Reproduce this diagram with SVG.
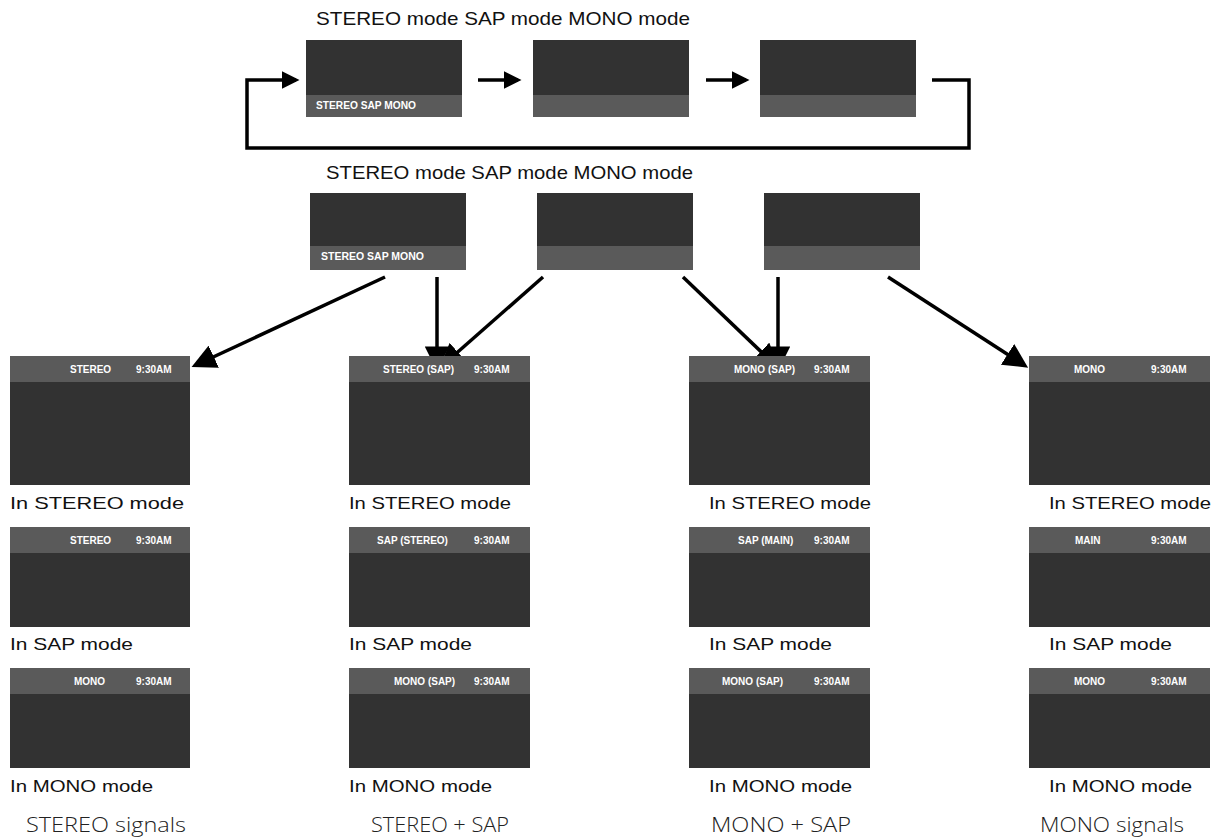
<svg xmlns="http://www.w3.org/2000/svg" width="1215" height="837" viewBox="0 0 1215 837">
<style>
.scr{fill:#323232}.bar{fill:#5a5a5a}
.t{font-family:"Liberation Sans",Arial,sans-serif;fill:#111}
.big{font-size:19px}.lab{font-size:17px}
.ft{font-family:"Open Sans","Liberation Sans",sans-serif;font-weight:300;font-size:21px;fill:#222}
.st{font-family:"Liberation Sans",Arial,sans-serif;font-weight:bold;font-size:10px;fill:#fff}
.ln{stroke:#000;stroke-width:3.5;fill:none}
</style>
<defs>
<marker id="ah" viewBox="0 0 10 10" refX="8" refY="5" markerWidth="5" markerHeight="5" orient="auto" markerUnits="strokeWidth"><path d="M0,0L10,5L0,10z" fill="#000"/></marker>
<marker id="ahb" viewBox="0 0 10 10" refX="8" refY="5" markerWidth="7" markerHeight="7" orient="auto" markerUnits="strokeWidth"><path d="M0,0L10,5L0,10z" fill="#000"/></marker>
</defs>
<rect width="1215" height="837" fill="#fff"/>
<text class="t big" x="316" y="25" textLength="374" lengthAdjust="spacingAndGlyphs">STEREO mode SAP mode MONO mode</text>
<text class="t big" x="326" y="179" textLength="367" lengthAdjust="spacingAndGlyphs">STEREO mode SAP mode MONO mode</text>
<g id="top1"><rect class="scr" x="306" y="40" width="156" height="77"/><rect class="bar" x="306" y="95" width="156" height="22"/><text class="st" x="316" y="109" textLength="100" lengthAdjust="spacingAndGlyphs">STEREO SAP MONO</text></g>
<g id="top2"><rect class="scr" x="533" y="40" width="156" height="77"/><rect class="bar" x="533" y="95" width="156" height="22"/></g>
<g id="top3"><rect class="scr" x="760" y="40" width="156" height="77"/><rect class="bar" x="760" y="95" width="156" height="22"/></g>
<g id="mid1"><rect class="scr" x="310" y="193" width="156" height="77"/><rect class="bar" x="310" y="246" width="156" height="24"/><text class="st" x="321" y="260" textLength="103" lengthAdjust="spacingAndGlyphs">STEREO SAP MONO</text></g>
<g id="mid2"><rect class="scr" x="537" y="193" width="156" height="77"/><rect class="bar" x="537" y="246" width="156" height="24"/></g>
<g id="mid3"><rect class="scr" x="764" y="193" width="156" height="77"/><rect class="bar" x="764" y="246" width="156" height="24"/></g>
<g id="connectors" class="ln">
<line x1="478" y1="80" x2="518" y2="80" marker-end="url(#ah)"/>
<line x1="706" y1="80" x2="746" y2="80" marker-end="url(#ah)"/>
<polyline points="932,80 969,80 969,148 247,148 247,80 296,80" marker-end="url(#ah)"/>
<line x1="385" y1="277" x2="196" y2="365" marker-end="url(#ahb)"/>
<line x1="437" y1="277" x2="437" y2="366" marker-end="url(#ahb)"/>
<line x1="543" y1="277" x2="443" y2="365" marker-end="url(#ahb)"/>
<line x1="683" y1="277" x2="775" y2="365" marker-end="url(#ahb)"/>
<line x1="778" y1="277" x2="778" y2="366" marker-end="url(#ahb)"/>
<line x1="888" y1="277" x2="1024" y2="365" marker-end="url(#ahb)"/>
</g>
<g id="s11"><rect class="scr" x="10" y="356" width="180" height="129"/><rect class="bar" x="10" y="356" width="180" height="26"/><text class="st" x="70" y="373">STEREO</text><text class="st" x="136" y="373">9:30AM</text></g>
<g id="s12"><rect class="scr" x="10" y="527" width="180" height="100"/><rect class="bar" x="10" y="527" width="180" height="26"/><text class="st" x="70" y="544">STEREO</text><text class="st" x="136" y="544">9:30AM</text></g>
<g id="s13"><rect class="scr" x="10" y="668" width="180" height="100"/><rect class="bar" x="10" y="668" width="180" height="26"/><text class="st" x="74" y="685">MONO</text><text class="st" x="136" y="685">9:30AM</text></g>
<g id="s21"><rect class="scr" x="349" y="356" width="181" height="129"/><rect class="bar" x="349" y="356" width="181" height="26"/><text class="st" x="383" y="373">STEREO (SAP)</text><text class="st" x="474" y="373">9:30AM</text></g>
<g id="s22"><rect class="scr" x="349" y="527" width="181" height="100"/><rect class="bar" x="349" y="527" width="181" height="26"/><text class="st" x="377" y="544">SAP (STEREO)</text><text class="st" x="474" y="544">9:30AM</text></g>
<g id="s23"><rect class="scr" x="349" y="668" width="181" height="100"/><rect class="bar" x="349" y="668" width="181" height="26"/><text class="st" x="394" y="685">MONO (SAP)</text><text class="st" x="474" y="685">9:30AM</text></g>
<g id="s31"><rect class="scr" x="689" y="356" width="181" height="129"/><rect class="bar" x="689" y="356" width="181" height="26"/><text class="st" x="734" y="373">MONO (SAP)</text><text class="st" x="814" y="373">9:30AM</text></g>
<g id="s32"><rect class="scr" x="689" y="527" width="181" height="100"/><rect class="bar" x="689" y="527" width="181" height="26"/><text class="st" x="738" y="544">SAP (MAIN)</text><text class="st" x="814" y="544">9:30AM</text></g>
<g id="s33"><rect class="scr" x="689" y="668" width="181" height="100"/><rect class="bar" x="689" y="668" width="181" height="26"/><text class="st" x="722" y="685">MONO (SAP)</text><text class="st" x="814" y="685">9:30AM</text></g>
<g id="s41"><rect class="scr" x="1029" y="356" width="181" height="129"/><rect class="bar" x="1029" y="356" width="181" height="26"/><text class="st" x="1074" y="373">MONO</text><text class="st" x="1151" y="373">9:30AM</text></g>
<g id="s42"><rect class="scr" x="1029" y="527" width="181" height="100"/><rect class="bar" x="1029" y="527" width="181" height="26"/><text class="st" x="1075" y="544">MAIN</text><text class="st" x="1151" y="544">9:30AM</text></g>
<g id="s43"><rect class="scr" x="1029" y="668" width="181" height="100"/><rect class="bar" x="1029" y="668" width="181" height="26"/><text class="st" x="1074" y="685">MONO</text><text class="st" x="1151" y="685">9:30AM</text></g>
<g class="t lab">
<text x="10" y="509" textLength="174" lengthAdjust="spacingAndGlyphs">In STEREO mode</text><text x="10" y="650" textLength="123" lengthAdjust="spacingAndGlyphs">In SAP mode</text><text x="10" y="792" textLength="143" lengthAdjust="spacingAndGlyphs">In MONO mode</text>
<text x="349" y="509" textLength="162" lengthAdjust="spacingAndGlyphs">In STEREO mode</text><text x="349" y="650" textLength="123" lengthAdjust="spacingAndGlyphs">In SAP mode</text><text x="349" y="792" textLength="143" lengthAdjust="spacingAndGlyphs">In MONO mode</text>
<text x="709" y="509" textLength="162" lengthAdjust="spacingAndGlyphs">In STEREO mode</text><text x="709" y="650" textLength="123" lengthAdjust="spacingAndGlyphs">In SAP mode</text><text x="709" y="792" textLength="143" lengthAdjust="spacingAndGlyphs">In MONO mode</text>
<text x="1049" y="509" textLength="162" lengthAdjust="spacingAndGlyphs">In STEREO mode</text><text x="1049" y="650" textLength="123" lengthAdjust="spacingAndGlyphs">In SAP mode</text><text x="1049" y="792" textLength="143" lengthAdjust="spacingAndGlyphs">In MONO mode</text>
</g>
<text class="ft" x="26" y="832" textLength="160" lengthAdjust="spacingAndGlyphs">STEREO signals</text>
<text class="ft" x="371" y="832" textLength="138" lengthAdjust="spacingAndGlyphs">STEREO + SAP</text>
<text class="ft" x="711" y="832" textLength="140" lengthAdjust="spacingAndGlyphs">MONO + SAP</text>
<text class="ft" x="1040" y="832" textLength="144" lengthAdjust="spacingAndGlyphs">MONO signals</text>
</svg>
